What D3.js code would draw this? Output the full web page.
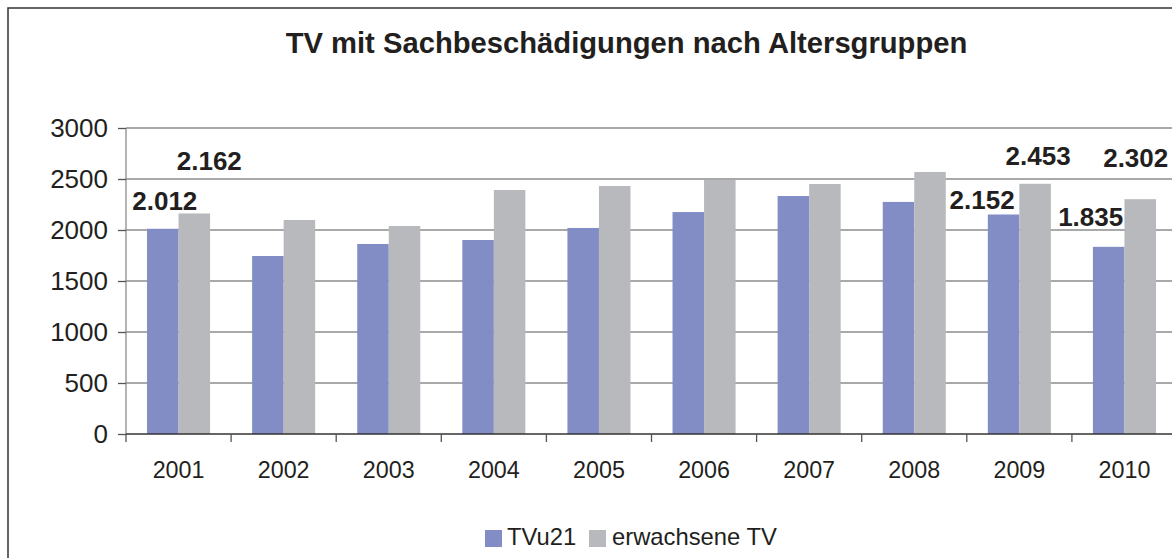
<!DOCTYPE html>
<html>
<head>
<meta charset="utf-8">
<script src="https://cdn.jsdelivr.net/npm/d3@7"></script>
<style>
  html, body { margin: 0; padding: 0; background: #fff; }
  svg { display: block; }
  text { font-family: "Liberation Sans", Arial, sans-serif; fill: #231f20; }
</style>
</head>
<body>
<svg id="chart" width="1172" height="558"></svg>
<script>
// ---- data ----
const years = ["2001","2002","2003","2004","2005","2006","2007","2008","2009","2010"];
const tvu21 = [2012, 1745, 1863, 1902, 2020, 2176, 2333, 2275, 2152, 1835];
const erwachsene = [2162, 2098, 2039, 2392, 2431, 2490, 2451, 2569, 2453, 2302];
const seriesNames = ["TVu21", "erwachsene TV"];
const yTicks = [0, 500, 1000, 1500, 2000, 2500, 3000];
const title = "TV mit Sachbeschädigungen nach Altersgruppen";
// labelled points: [series index, year]
const labelledPoints = [[0,"2001"],[1,"2001"],[0,"2009"],[1,"2009"],[0,"2010"],[1,"2010"]];

// ---- layout ----
const colors = ["#828dc5", "#b8b9bd"];
const labelOffsets = [[2,-19],[15,-43.5],[-21.5,-5.5],[3,-19],[-18,-21],[-4.5,-32]];
const plot = { left: 126, right: 1177, top: 128, bottom: 434 };

const svg = d3.select("#chart");

// outer frame
svg.append("rect").attr("x", 8).attr("y", 8).attr("width", 1200).attr("height", 600)
  .attr("fill", "none").attr("stroke", "#333").attr("stroke-width", 1.5);

const x = d3.scaleBand().domain(years).range([plot.left, plot.right]).padding(0);
const xs = d3.scaleBand().domain([0,1]).range([0, x.bandwidth()]).paddingInner(0).paddingOuter(0.667);
const y = d3.scaleLinear().domain([0, 3000]).range([plot.bottom, plot.top]);

// title
svg.append("text").attr("x", 626.5).attr("y", 53).attr("text-anchor", "middle")
  .attr("font-size", 29.2).attr("font-weight", "bold").text(title);

// gridlines
svg.append("g").selectAll("line").data(yTicks.filter(d => d > 0)).join("line")
  .attr("x1", plot.left).attr("x2", 1172)
  .attr("y1", d => y(d)).attr("y2", d => y(d))
  .attr("stroke", "#8c8c8c").attr("stroke-width", 1.3);

// bars
const rows = years.map((yr, i) => ({ year: yr, vals: [tvu21[i], erwachsene[i]] }));
const g = svg.append("g").selectAll("g").data(rows).join("g")
  .attr("transform", d => `translate(${x(d.year)},0)`);
g.selectAll("rect").data(d => d.vals.map((v, k) => ({ k, v }))).join("rect")
  .attr("x", d => xs(d.k)).attr("width", xs.bandwidth())
  .attr("y", d => y(d.v)).attr("height", d => y(0) - y(d.v))
  .attr("fill", d => colors[d.k]);

// y axis
const yAxis = d3.axisLeft(y).tickValues(yTicks).tickSize(8).tickPadding(10).tickFormat(d3.format("d"));
const ya = svg.append("g").attr("transform", `translate(${plot.left},0)`).call(yAxis);
ya.select(".domain").attr("stroke", "#8c8c8c").attr("stroke-width", 1.3).attr("d", `M0,${plot.top}V${plot.bottom}`);
ya.selectAll(".tick line").attr("stroke", "#555").attr("stroke-width", 1.3);
ya.selectAll(".tick text").attr("font-size", 26).attr("fill", "#231f20")
  .attr("font-family", "Liberation Sans, Arial, sans-serif");

// x axis
const xAxis = d3.axisBottom(x).tickSize(0).tickPadding(27);
const xa = svg.append("g").attr("transform", `translate(0,${plot.bottom})`).call(xAxis);
xa.select(".domain").remove();
xa.selectAll(".tick text").attr("font-size", 23.3).attr("fill", "#231f20")
  .attr("font-family", "Liberation Sans, Arial, sans-serif");
svg.append("line").attr("x1", plot.left).attr("x2", 1172).attr("y1", plot.bottom).attr("y2", plot.bottom)
  .attr("stroke", "#333").attr("stroke-width", 1.5);
// category boundary ticks
svg.append("g").selectAll("line").data(years).join("line")
  .attr("x1", d => x(d)).attr("x2", d => x(d))
  .attr("y1", plot.bottom).attr("y2", plot.bottom + 8)
  .attr("stroke", "#555").attr("stroke-width", 1.3);

// data labels
const fmt = v => d3.format(",")(v).replace(/,/g, ".");
svg.append("g").selectAll("text").data(labelledPoints).join("text")
  .attr("x", (d, i) => x(d[1]) + xs(d[0]) + xs.bandwidth() / 2 + labelOffsets[i][0])
  .attr("y", (d, i) => y((d[0] === 0 ? tvu21 : erwachsene)[years.indexOf(d[1])]) + labelOffsets[i][1])
  .attr("text-anchor", "middle").attr("font-size", 26).attr("font-weight", "bold")
  .text(d => fmt((d[0] === 0 ? tvu21 : erwachsene)[years.indexOf(d[1])]));

// legend
const legendItems = [{ x: 485, tx: 507 }, { x: 589, tx: 612 }];
const lg = svg.append("g").selectAll("g").data(seriesNames).join("g");
lg.append("rect").attr("x", (d, i) => legendItems[i].x).attr("y", 530)
  .attr("width", 17).attr("height", 17).attr("fill", (d, i) => colors[i]);
lg.append("text").attr("x", (d, i) => legendItems[i].tx).attr("y", 545)
  .attr("font-size", 23.8).text(d => d);
</script>
</body>
</html>
